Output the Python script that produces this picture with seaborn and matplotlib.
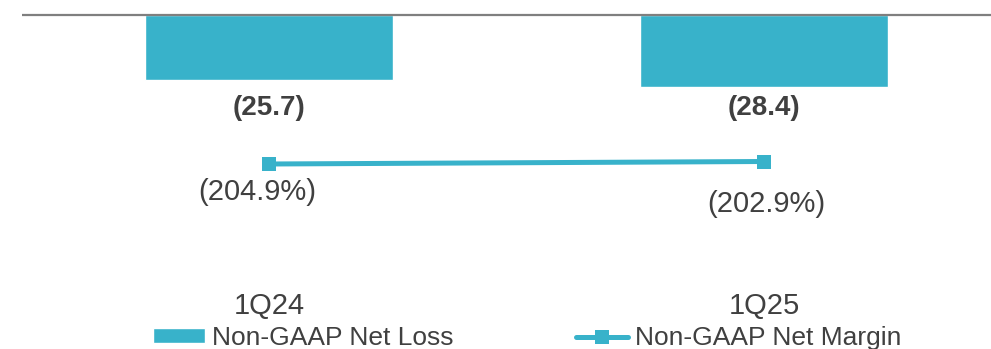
import matplotlib
matplotlib.use("Agg")
import matplotlib.pyplot as plt
import numpy as np
import seaborn as sns

# Quarterly figures (US$ millions and % of revenue)
quarters = ["1Q24", "1Q25"]
net_loss = [-25.7, -28.4]
net_margin = [-204.9, -202.9]
loss_labels = ["(25.7)", "(28.4)"]
margin_labels = ["(204.9%)", "(202.9%)"]

# Styling
TEAL = "#38B2CA"
TEXT = "#404040"
AXIS_GRAY = "#7F7F7F"
FS_NUM = 21
FS_LEG = 19

sns.set_theme(style="white")
plt.rcParams["font.family"] = ["Liberation Sans", "DejaVu Sans"]

W, H, DPI = 991, 349, 100
fig = plt.figure(figsize=(W / DPI, H / DPI), dpi=DPI)

# Plot area occupies the top 290 px; the category labels and legend sit below
AX_H = 290
ax = fig.add_axes([0, (H - AX_H) / H, 1, AX_H / H])

sns.barplot(x=quarters, y=net_loss, ax=ax, color=TEAL, saturation=1,
            width=0.5, label="Non-GAAP Net Loss")

# Horizontal layout: categories 495 px apart, first centred at 269 px
step_px, x0_px = 495.0, 268.9
ax.set_xlim(-x0_px / step_px, (W - x0_px) / step_px)

# Vertical scale for the bars: zero line 14.5 px below the top
zero_px, px_per_unit = 14.5, 2.54
ax.set_ylim(-(AX_H - zero_px) / px_per_unit, zero_px / px_per_unit)
ax.hlines(0, (22 - x0_px) / step_px, (W - x0_px) / step_px,
          color=AXIS_GRAY, lw=1.6, zorder=3)

# Bold value labels in a row beneath the bars
label_row = -(108 - zero_px) / px_per_unit
for i, txt in enumerate(loss_labels):
    ax.text(i, label_row, txt, ha="center", va="center", fontsize=20,
            fontweight="bold", color=TEXT)

# Secondary scale for the margin line
ax2 = ax.twinx()
m_px, m_scale = 164.0, 1.25
ax2.set_ylim(-204.9 - (AX_H - m_px) / m_scale, -204.9 + m_px / m_scale)
sns.lineplot(x=np.arange(len(quarters)), y=net_margin, ax=ax2, color=TEAL,
             lw=3.6, marker="s", markersize=10, markeredgewidth=0,
             label="Non-GAAP Net Margin", legend=False)

margin_offsets = [(-11.5, -28.5), (2.0, -42.5)]  # pixels from each marker
for i, (txt, (dx, dy)) in enumerate(zip(margin_labels, margin_offsets)):
    ax2.annotate(txt, xy=(i, net_margin[i]),
                 xytext=(dx * 72 / DPI, dy * 72 / DPI), textcoords="offset points",
                 ha="center", va="center", fontsize=FS_NUM, color=TEXT)

# Axes cosmetics
for a in (ax, ax2):
    for s in a.spines.values():
        s.set_visible(False)
    a.set_yticks([])
    a.set_ylabel("")
ax.set_xticks(range(len(quarters)))
ax.set_xticklabels(quarters)
ax.tick_params(axis="x", length=0, labelsize=FS_NUM, colors=TEXT, pad=1.5)
ax2.tick_params(axis="x", length=0)
if ax.get_legend() is not None:
    ax.get_legend().remove()

h1, l1 = ax.get_legend_handles_labels()
h2, l2 = ax2.get_legend_handles_labels()
fig.legend(h1 + h2, l1 + l2, loc="center left",
           bbox_to_anchor=(153 / W, (H - 338) / H), bbox_transform=fig.transFigure,
           ncol=2, frameon=False, borderpad=0, borderaxespad=0,
           handlelength=1.97, handleheight=0.5, handletextpad=0.27,
           columnspacing=4.65, fontsize=FS_LEG, labelcolor=TEXT)

fig.savefig("out.png", dpi=DPI)
